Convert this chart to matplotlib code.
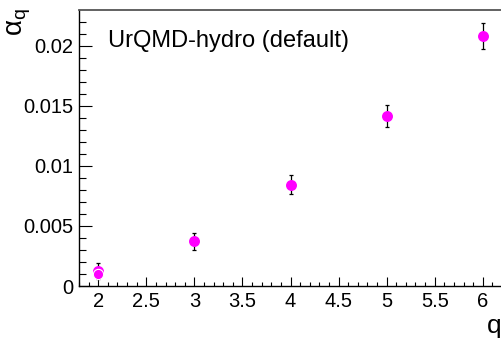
import matplotlib
matplotlib.use("Agg")
import matplotlib.pyplot as plt
from matplotlib.ticker import MultipleLocator

plt.rcParams["font.family"] = ["Liberation Sans", "DejaVu Sans"]
plt.rcParams["mathtext.fontset"] = "custom"
plt.rcParams["mathtext.rm"] = "Liberation Sans"

# alpha_q vs q, UrQMD-hydro (default)
q_vals = [2, 3, 4, 5, 6]
alpha_q = [0.00125, 0.00372, 0.00843, 0.01415, 0.0208]
alpha_err = [0.0007, 0.0007, 0.0008, 0.0009, 0.0011]

# second, overlapping point at q = 2
q_extra = [2]
alpha_extra = [0.00098]

x_ticks = [2, 2.5, 3, 3.5, 4, 4.5, 5, 5.5, 6]
x_ticklabels = ["2", "2.5", "3", "3.5", "4", "4.5", "5", "5.5", "6"]
y_ticks = [0, 0.005, 0.01, 0.015, 0.02]
y_ticklabels = ["0", "0.005", "0.01", "0.015", "0.02"]

W, H = 502, 342
fig = plt.figure(figsize=(W / 100, H / 100), dpi=100)
ax = fig.add_axes([79 / W, (H - 286) / H, 1 - 79 / W, (286 - 10) / H])

ax.errorbar(q_vals, alpha_q, yerr=alpha_err, fmt="none", ecolor="black",
            elinewidth=0.9, capsize=1.6, capthick=0.9, zorder=2)
ax.plot(q_vals, alpha_q, "o", color="#ff00ff", ms=7.9, mec="#ff00ff", mew=0, zorder=3)
ax.plot(q_extra, alpha_extra, "o", color="#ff00ff", ms=7.4, mec="white", mew=0.8, zorder=4)

ax.set_xlim(1.8, 6.2)
ax.set_ylim(0, 0.02297)
ax.set_xticks(x_ticks)
ax.set_xticklabels(x_ticklabels)
ax.set_yticks(y_ticks)
ax.set_yticklabels(y_ticklabels)
ax.xaxis.set_minor_locator(MultipleLocator(0.1))
ax.yaxis.set_minor_locator(MultipleLocator(0.001))

ax.tick_params(axis="x", which="major", direction="in", length=6.2, width=0.8,
               labelsize=14.5, pad=4.5, top=False)
ax.tick_params(axis="x", which="minor", direction="in", length=3.1, width=0.8, top=False)
ax.tick_params(axis="y", which="major", direction="in", length=9.2, width=0.8,
               labelsize=14.5, pad=4, right=False)
ax.tick_params(axis="y", which="minor", direction="in", length=5, width=0.8, right=False)

for side in ["left", "bottom"]:
    ax.spines[side].set_linewidth(1.0)
    ax.spines[side].set_color("black")
ax.spines["top"].set_linewidth(1.3)
ax.spines["top"].set_color("#555555")
ax.spines["right"].set_visible(False)

fig.text(108 / W, (H - 47) / H, "UrQMD-hydro (default)", fontsize=17,
         ha="left", va="baseline")
fig.text(487 / W, (H - 333) / H, "q", fontsize=19, ha="left", va="baseline")
fig.text(19 / W, 1 - 8 / H, r"α$_\mathregular{q}$", fontsize=20, rotation=90,
         ha="center", va="top")

fig.savefig("out.png", dpi=100)
